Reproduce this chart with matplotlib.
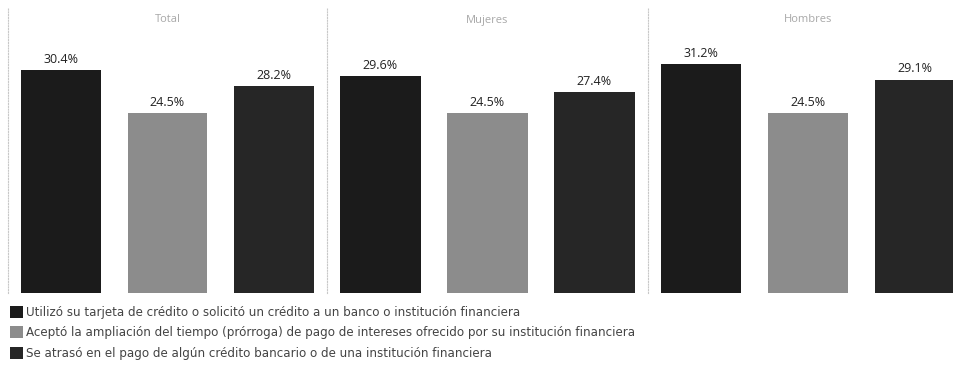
import matplotlib.pyplot as plt
from matplotlib.patches import Patch

plt.rcParams["font.family"] = ["Open Sans", "DejaVu Sans"]

groups = ["Total", "Mujeres", "Hombres"]
series = [
    "Utilizó su tarjeta de crédito o solicitó un crédito a un banco o institución financiera",
    "Aceptó la ampliación del tiempo (prórroga) de pago de intereses ofrecido por su institución financiera",
    "Se atrasó en el pago de algún crédito bancario o de una institución financiera",
]
values = {
    "Total": [30.4, 24.5, 28.2],
    "Mujeres": [29.6, 24.5, 27.4],
    "Hombres": [31.2, 24.5, 29.1],
}
colors = ["#1b1b1b", "#8c8c8c", "#262626"]

W, H = 954, 370
fig = plt.figure(figsize=(W / 100, H / 100), dpi=100)

# panel edges in pixels, bars share a common zero baseline
edges = [8, 327, 648, 968]
top, bottom = 8, 293
ymax = (bottom - top) / 7.33

for i, g in enumerate(groups):
    x0, x1 = edges[i], edges[i + 1]
    ax = fig.add_axes([x0 / W, 1 - bottom / H, (x1 - x0) / W, (bottom - top) / H])
    bars = ax.bar(range(3), values[g], width=0.75, color=colors)
    for b, v in zip(bars, values[g]):
        ax.text(b.get_x() + b.get_width() / 2, v + 0.6, f"{v}%",
                ha="center", va="bottom", fontsize=9, color="#222222")
    ax.set_xlim(-0.5, 2.5)
    ax.set_ylim(0, ymax)
    ax.set_xticks([])
    ax.set_yticks([])
    for s in ["top", "bottom", "right"]:
        ax.spines[s].set_visible(False)
    ax.spines["left"].set_linestyle((0, (1, 1.5)))
    ax.spines["left"].set_color("#c8c8c8")
    ax.spines["left"].set_linewidth(0.8)
    ax.text(0.5, 1 - 12 / (bottom - top), g, transform=ax.transAxes,
            ha="center", va="center", fontsize=8, color="#a8a8a8")

handles = [Patch(facecolor=c, edgecolor="none") for c in colors]
fig.legend(handles, series, loc="upper left",
           bbox_to_anchor=(10 / W, 1 - 306 / H), frameon=False,
           prop={"family": "DejaVu Sans", "size": 8.6}, labelcolor="#444444",
           handlelength=1.05, handleheight=1.15, handletextpad=0.3,
           labelspacing=0.62, borderaxespad=0, borderpad=0)

fig.savefig("out.png", dpi=100)
